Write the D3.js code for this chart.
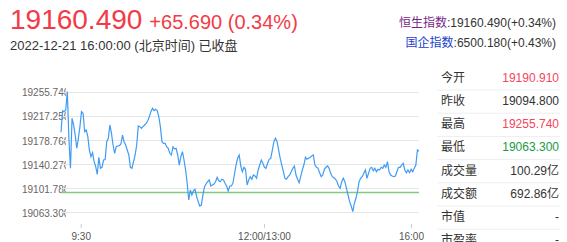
<!DOCTYPE html>
<html>
<head>
<meta charset="utf-8">
<script src="https://cdn.jsdelivr.net/npm/d3@7"></script>
<style>
  body { margin: 0; background: #fff; }
  svg { display: block; font-family: Arial, "Liberation Sans", "Noto Sans CJK SC", sans-serif; }
</style>
</head>
<body>
<div class="hsi"></div>
<script>
// intraday index values left to right
const priceData = [
  19190.9, 19225.2, 19223.6, 19226.3, 19255.7, 19181.2, 19133.4, 19213.0, 19202.4, 19186.4,
  19165.3, 19181.2, 19199.7, 19223.6, 19221.0, 19191.7, 19194.4, 19183.7, 19162.5, 19151.9,
  19158.2, 19143.9, 19135.9, 19123.8, 19150.9, 19133.4, 19135.0, 19146.6, 19147.5, 19175.8,
  19181.2, 19202.4, 19189.2, 19170.5, 19157.3, 19167.8, 19168.9, 19169.4, 19172.1, 19186.4,
  19175.8, 19170.5, 19162.5, 19154.6, 19135.0, 19133.4, 19143.9, 19154.6, 19170.5, 19200.8,
  19199.7, 19197.1, 19199.7, 19202.4, 19205.1, 19209.2, 19215.6, 19223.6, 19229.0, 19225.2,
  19227.4, 19225.2, 19215.6, 19199.7, 19175.8, 19173.2, 19173.2, 19167.8, 19165.3, 19157.3,
  19154.6, 19167.8, 19164.1, 19165.3, 19154.6, 19138.6, 19151.9, 19159.8, 19146.6, 19130.7,
  19109.5, 19082.9, 19098.8, 19090.9, 19097.7, 19099.9, 19088.2, 19080.2, 19073.3, 19074.9,
  19090.9, 19104.1, 19108.4, 19112.0, 19114.8, 19105.2, 19106.8, 19108.4, 19112.0, 19119.1,
  19113.6, 19112.0, 19115.9, 19114.8, 19109.5, 19105.2, 19097.2, 19105.2, 19105.2, 19109.5,
  19124.3, 19138.6, 19149.3, 19154.6, 19137.0, 19128.0, 19135.0, 19131.8, 19106.8, 19114.8,
  19120.0, 19115.9, 19122.7, 19121.1, 19117.5, 19130.7, 19138.6, 19146.6, 19141.4, 19135.0,
  19133.4, 19141.4, 19147.7, 19149.3, 19162.5, 19175.8, 19181.2, 19175.8, 19162.5, 19149.3,
  19138.6, 19128.0, 19117.5, 19115.9, 19120.0, 19122.7, 19128.0, 19133.4, 19137.1, 19122.7,
  19115.9, 19110.5, 19120.0, 19130.7, 19138.6, 19150.9, 19148.0, 19149.3, 19150.9, 19153.0,
  19154.6, 19138.6, 19135.0, 19133.4, 19126.4, 19120.0, 19122.7, 19131.8, 19135.0, 19137.1,
  19133.4, 19125.4, 19120.0, 19118.4, 19116.3, 19112.0, 19105.2, 19101.5, 19112.0, 19117.5,
  19112.0, 19101.5, 19090.9, 19080.2, 19073.3, 19064.5, 19077.6, 19085.6, 19096.1, 19112.0,
  19117.5, 19120.0, 19125.4, 19130.7, 19117.5, 19125.4, 19133.4, 19135.0, 19129.6, 19133.4,
  19128.0, 19131.8, 19130.7, 19135.0, 19133.4, 19138.6, 19135.0, 19143.9, 19128.0, 19122.7,
  19121.1, 19120.0, 19121.1, 19128.0, 19135.0, 19135.0, 19138.6, 19141.4, 19130.7, 19126.4,
  19130.7, 19126.4, 19131.8, 19128.0, 19133.4, 19138.6, 19162.5, 19160.49
]
const prevClose = 19094.8
const yTicks = [19255.74, 19217.25, 19178.76, 19140.27, 19101.78, 19063.30]
const timeLabels = ['9:30', '12:00/13:00', '16:00']
const timeTickIdx = [12.5, 128.7, 221.9]

const quoteLabels = ['今开', '昨收', '最高', '最低', '成交量', '成交额', '市值', '市盈率']
const quoteValues = ['19190.910', '19094.800', '19255.740', '19063.300', '100.29亿', '692.86亿', '-', '-']
const quoteColors = ['#f5455c', '#333', '#f5455c', '#1a9a44', '#333', '#333', '#333', '#333']

const W = 567, H = 242
const plot = {left: 61, right: 419, top: 91.5, bottom: 212.3}

const svg = d3.select('.hsi')
  .append('svg')
    .attr('width', W)
    .attr('height', H)

// header
const head = svg.append('text').attr('y', 29)
head.append('tspan')
  .attr('x', 10)
  .attr('fill', '#f23b47')
  .style('font-size', '28px')
  .text('19160.490')
head.append('tspan')
  .attr('dx', 7)
  .attr('fill', '#f23b47')
  .style('font-size', '20px')
  .text('+65.690 (0.34%)')

svg.append('text')
  .attr('x', 10).attr('y', 50)
  .attr('fill', '#333')
  .style('font-size', '13px')
  .text('2022-12-21 16:00:00 (北京时间) 已收盘')

const idx1 = svg.append('text').attr('x', 556).attr('y', 27)
  .attr('text-anchor', 'end').style('font-size', '12px')
idx1.append('tspan').attr('fill', '#7a1f86').text('恒生指数')
idx1.append('tspan').attr('fill', '#333').text(':19160.490(+0.34%)')

const idx2 = svg.append('text').attr('x', 556).attr('y', 47)
  .attr('text-anchor', 'end').style('font-size', '12px')
idx2.append('tspan').attr('fill', '#2140d0').text('国企指数')
idx2.append('tspan').attr('fill', '#333').text(':6500.180(+0.43%)')

// scales
const x = d3.scaleLinear()
  .domain([0, priceData.length - 1])
  .range([plot.left, plot.right])

const y = d3.scaleLinear()
  .domain([yTicks[yTicks.length - 1], yTicks[0]])
  .range([plot.bottom, plot.top])

// y labels, cut by the plot edge like the original (clip is in the group's own coords)
svg.append('clipPath').attr('id', 'lab-clip')
  .append('rect').attr('x', -5).attr('y', 60).attr('width', 49).attr('height', 170)

svg.append('g')
  .attr('transform', 'translate(22,1)')
  .attr('clip-path', 'url(#lab-clip)')
  .call(d3.axisRight(y).tickValues(yTicks).tickSize(0).tickPadding(0).tickFormat(d3.format('.3f')))
  .call(g => g.select('.domain').remove())
  .call(g => g.selectAll('.tick text')
    .attr('fill', '#666')
    .style('font-size', '10px')
    .style('font-family', 'Arial, "Liberation Sans", sans-serif'))

// grid
svg.append('g')
  .selectAll('line')
  .data(yTicks)
  .join('line')
    .attr('x1', plot.left)
    .attr('x2', plot.right)
    .attr('y1', d => Math.round(y(d)) + 0.5)
    .attr('y2', d => Math.round(y(d)) + 0.5)
    .attr('stroke', '#e6e6e6')

// previous close
svg.append('line')
  .attr('x1', plot.left).attr('x2', plot.right)
  .attr('y1', y(prevClose)).attr('y2', y(prevClose))
  .attr('stroke', '#7fcb7f')
  .attr('stroke-width', 1.5)

// price line
svg.append('path')
  .datum(priceData)
  .attr('fill', 'none')
  .attr('stroke', '#3f9cf3')
  .attr('stroke-width', 1.2)
  .attr('d', d3.line()
    .x((d, i) => x(i))
    .y(d => y(d)))

// time axis
const xAxis = svg.append('g')
  .attr('transform', 'translate(0,224)')
  .call(d3.axisBottom(x).tickValues(timeTickIdx).tickSize(4).tickPadding(5)
    .tickFormat((d, i) => timeLabels[i]))
xAxis.select('.domain').remove()
xAxis.selectAll('.tick line').attr('stroke', '#ccc')
xAxis.selectAll('.tick text')
  .attr('fill', '#555')
  .style('font-size', '10px')
  .style('font-family', 'Arial, "Liberation Sans", sans-serif')

// quote table
const rowH = 23.2
const rows = svg.append('g')
  .selectAll('g')
  .data(quoteLabels)
  .join('g')
    .attr('transform', (d, i) => `translate(0,${77.5 + i * rowH})`)

rows.append('text')
  .attr('x', 441)
  .attr('dy', '0.35em')
  .attr('fill', '#333')
  .style('font-size', '12px')
  .text(d => d)

rows.append('text')
  .attr('x', 559)
  .attr('dy', '0.35em')
  .attr('text-anchor', 'end')
  .attr('fill', (d, i) => quoteColors[i])
  .style('font-size', '12px')
  .text((d, i) => quoteValues[i])

rows.filter((d, i) => i < quoteLabels.length - 1)
  .append('line')
    .attr('x1', 437).attr('x2', 560)
    .attr('y1', 12.5).attr('y2', 12.5)
    .attr('stroke', '#eee')
</script>
</body>
</html>
